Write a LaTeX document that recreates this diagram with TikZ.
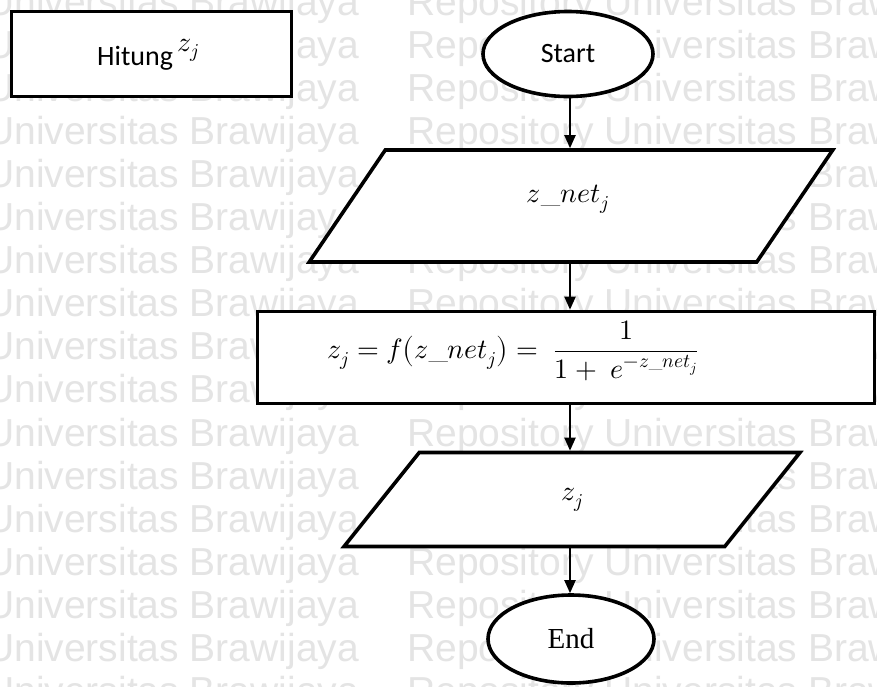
\documentclass[tikz,border=0pt]{standalone}
\usepackage{fontspec}
\usepackage{unicode-math}
\newfontfamily\calibrifont{Carlito}
\newfontfamily\timesfont{Liberation Serif}
\newfontfamily\arialfont{Liberation Sans}
\usetikzlibrary{shapes.geometric,arrows.meta}
\definecolor{wmgray}{RGB}{228,228,228}

\begin{document}
\begin{tikzpicture}[x=1pt,y=-1pt,
  wm/.style={font=\arialfont\fontsize{39}{41}\selectfont, text=wmgray, inner sep=0pt, anchor=base west},
  box/.style={draw, line width=3.6pt, fill=white, inner sep=0pt},
  term/.style={box, ellipse},
  io/.style={box, trapezium, trapezium left angle=77, trapezium right angle=103,
             trapezium stretches=true},
  proc/.style={box, rectangle},
  sans/.style={font=\calibrifont\fontsize{28}{30}\selectfont},
  serif/.style={font=\timesfont\fontsize{29}{31}\selectfont},
  mathtxt/.style={font=\fontsize{28}{30}\selectfont},
  flow/.style={line width=2pt, -{Triangle[length=13pt,width=11pt]}}]

\useasboundingbox (0,0) rectangle (877,686);
\fill[white] (0,0) rectangle (877,686);

% repository watermark rows
\foreach \k in {0,...,16} {
  \node[wm] (wmL\k) at (-14,{15+43.1*\k}) {Universitas Brawijaya};
  \node[wm] (wmR\k) at (407,{15+43.1*\k}) {Repository Universitas Brawijaya};
}

% title box
\node[proc, minimum width=280, minimum height=85] (title) at (151.5,54) {};
\node[sans, anchor=base west, inner sep=0pt] (titletext) at (97,65)
  {Hitung\,\raisebox{14pt}{$z_j$}};

% flowchart
\node[term, sans, minimum width=170, minimum height=85] (start) at (568,54) {Start};
\node[io, mathtxt, minimum width=524, minimum height=112] (in1) at (571,206) {\phantom{x}};
\node[mathtxt, inner sep=0pt] (in1text) at (568,199) {$z\_net_j$};
\node[proc, minimum width=617, minimum height=92] (calc) at (566,357.5) {};
\node[mathtxt, inner sep=0pt] (calctext) at (513,351)
  {$z_j = f\bigl(z\_net_j\bigr) = \;\dfrac{1}{1+\;e^{-z\_net_j}}$};
\node[io, mathtxt, minimum width=457, minimum height=94] (in2) at (572,499.5) {$z_j$};
\node[term, serif, minimum width=166, minimum height=88] (finish) at (571,639) {End};

\draw[flow] (start.south -| 570,0) -- (in1.north -| 570,0);
\draw[flow] (in1.south -| 570,0) -- (calc.north -| 570,0);
\draw[flow] (calc.south -| 570,0) -- (in2.north -| 570,0);
\draw[flow] (in2.south -| 570,0) -- (finish.north -| 570,0);
\end{tikzpicture}
\end{document}
